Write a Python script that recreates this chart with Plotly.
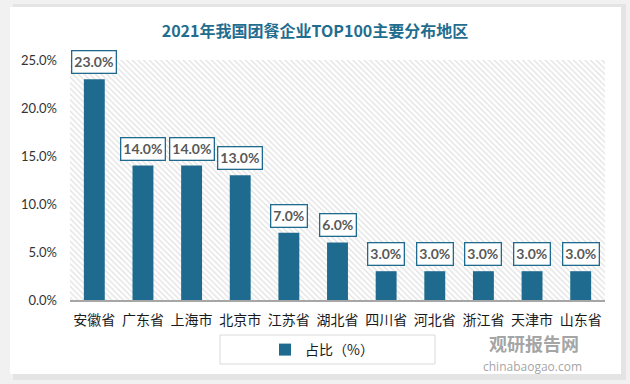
import plotly.graph_objects as go

categories = ["安徽省", "广东省", "上海市", "北京市", "江苏省", "湖北省", "四川省", "河北省", "浙江省", "天津市", "山东省"]
values = [23.0, 14.0, 14.0, 13.0, 7.0, 6.0, 3.0, 3.0, 3.0, 3.0, 3.0]
series_name = "占比（%）"
title_text = "2021年我国团餐企业TOP100主要分布地区"
y_ticks = [0, 5, 10, 15, 20, 25]
y_tick_labels = ["0.0%", "5.0%", "10.0%", "15.0%", "20.0%", "25.0%"]

BAR = "#1e6b8f"
W, H = 630, 384
L, R, T, B = 70, 25, 60, 84
pw, ph = W - L - R, H - T - B

def px(x):
    return (x - L) / pw

def py(y):
    return (H - B - y) / ph

fig = go.Figure()

# hatched plot-area background (decoration)
fig.add_trace(go.Bar(
    x=[0.5], y=[1], width=[1], xaxis="x", yaxis="y",
    marker=dict(color="white", line=dict(width=0),
                pattern=dict(shape="\\", fgcolor="#c8c8c8", bgcolor="white", size=4, solidity=0.35)),
    showlegend=False, hoverinfo="skip",
))

fig.add_trace(go.Bar(
    x=categories, y=values, name=series_name, xaxis="x2", yaxis="y2",
    marker=dict(color=BAR, line=dict(width=0)),
))

for c, v in zip(categories, values):
    fig.add_annotation(
        x=c, y=v, xref="x2", yref="y2", text=f"<b>{v:.1f}%</b>",
        showarrow=False, yanchor="bottom", yshift=5,
        font=dict(family="Lato, Open Sans, sans-serif", size=14, color="#595959"),
        bgcolor="white", bordercolor=BAR, borderwidth=1.3, borderpad=2,
    )

shapes = [
    dict(type="rect", xref="paper", yref="paper", layer="below",
         x0=px(13), x1=px(626), y0=py(380), y1=py(4),
         fillcolor="#e4e4e4", line=dict(width=0)),
    dict(type="rect", xref="paper", yref="paper", layer="below",
         x0=px(10), x1=px(621), y0=py(374), y1=py(7),
         fillcolor="white", line=dict(width=0)),
    dict(type="rect", xref="paper", yref="paper", layer="above",
         x0=px(220), x1=px(435), y0=py(364), y1=py(335),
         fillcolor="rgba(0,0,0,0)", line=dict(color="#d9d9d9", width=1)),
]

annotations_extra = [
    dict(xref="paper", yref="paper", x=px(534), y=py(343), text="<b>观研报告网</b>",
         xanchor="center", yanchor="middle",
         showarrow=False, font=dict(family="Noto Sans CJK SC", size=18, color="rgba(140,140,140,0.8)")),
    dict(xref="paper", yref="paper", x=px(532), y=py(366), text="chinabaogao.com",
         xanchor="center", yanchor="middle",
         showarrow=False, font=dict(family="Open Sans", size=12, color="rgba(140,140,140,0.8)")),
]
for a in annotations_extra:
    fig.add_annotation(**a)

fig.update_layout(
    width=W, height=H,
    margin=dict(l=L, r=R, t=T, b=B, autoexpand=False),
    paper_bgcolor="#f1f1f1", plot_bgcolor="rgba(0,0,0,0)",
    title=dict(text=f"<b>{title_text}</b>", x=315 / W, y=1 - 31 / H,
               xanchor="center", yanchor="middle", automargin=False,
               font=dict(family="Noto Sans CJK SC", size=16, color="#1f6d8f")),
    xaxis=dict(range=[0, 1], visible=False, fixedrange=True, automargin=False),
    yaxis=dict(range=[0, 1], visible=False, fixedrange=True, automargin=False),
    xaxis2=dict(overlaying="x", type="category", showgrid=False, automargin=False,
                showline=True, linecolor="#a6a6a6", linewidth=1.5,
                ticks="", ticklabelstandoff=6,
                tickfont=dict(family="Noto Sans CJK SC", size=14, color="#1a1a1a")),
    yaxis2=dict(overlaying="y", range=[0, 25], tickvals=y_ticks, ticktext=y_tick_labels,
                showgrid=False, zeroline=False, showline=False, ticks="", automargin=False,
                ticklabelstandoff=12,
                tickfont=dict(family="Lato, Open Sans, sans-serif", size=13, color="#333333")),
    bargap=0.57,
    shapes=shapes,
    showlegend=True,
    legend=dict(orientation="h", x=px(322), y=py(350), xanchor="center", yanchor="middle",
                bgcolor="rgba(0,0,0,0)",
                font=dict(family="Noto Sans CJK SC", size=14, color="#1a1a1a")),
)

fig.write_html("out.html", config={"displayModeBar": False},
               post_script="document.body.style.margin='0';document.body.style.overflow='hidden';")
